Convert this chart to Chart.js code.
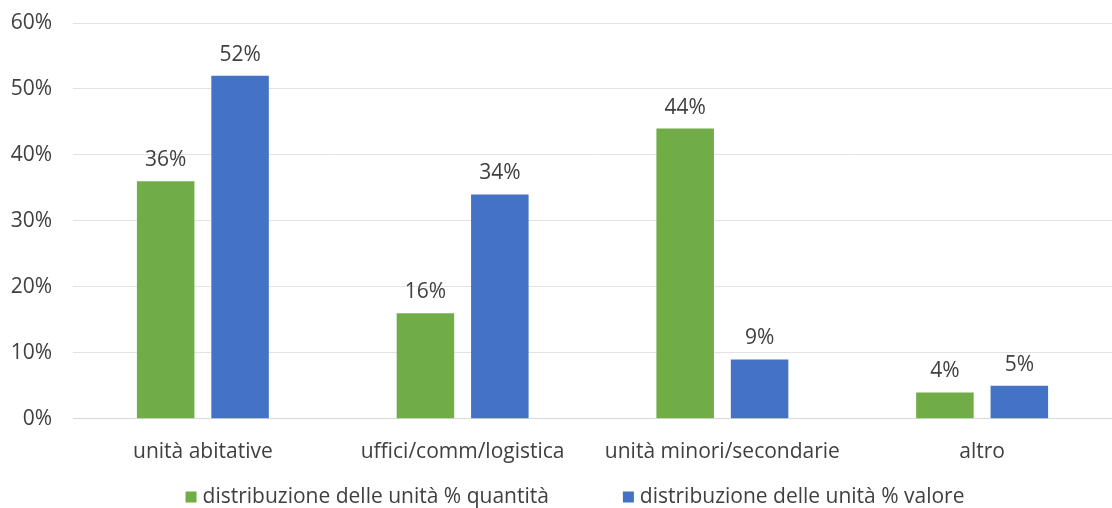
<!DOCTYPE html>
<html>
<head>
<meta charset="utf-8">
<script src="https://cdn.jsdelivr.net/npm/chart.js@4.4.1/dist/chart.umd.min.js"></script>
<style>
  html, body { margin: 0; padding: 0; background: #fff; }
  #wrap { width: 1112px; height: 508px; }
</style>
</head>
<body>
<div id="wrap"><canvas id="chart" width="1112" height="508"></canvas></div>
<script>
const categories = ['unità abitative', 'uffici/comm/logistica', 'unità minori/secondarie', 'altro'];
const quantita = [36, 16, 44, 4];
const valore = [52, 34, 9, 5];
const yTicks = [0, 10, 20, 30, 40, 50, 60];
const seriesNames = ['distribuzione delle unità % quantità', 'distribuzione delle unità % valore'];

const FONT = '"Open Sans", sans-serif';
const SIZE = 21;
const TEXT = '#404040';

// value labels over each bar
const barLabels = {
  id: 'barLabels',
  afterDatasetsDraw(chart) {
    const ctx = chart.ctx;
    ctx.save();
    ctx.font = SIZE + 'px ' + FONT;
    ctx.fillStyle = TEXT;
    ctx.textAlign = 'center';
    ctx.textBaseline = 'middle';
    chart.data.datasets.forEach((ds, i) => {
      chart.getDatasetMeta(i).data.forEach((bar, j) => {
        ctx.fillText(ds.data[j] + '%', bar.x, bar.y - 21);
      });
    });
    ctx.restore();
  }
};

// legend drawn by hand so the gap between the two items matches
const bottomLegend = {
  id: 'bottomLegend',
  afterDraw(chart) {
    const ctx = chart.ctx;
    ctx.save();
    ctx.font = SIZE + 'px ' + FONT;
    ctx.textBaseline = 'middle';
    const gap = 74, box = 11, y = 497;
    const items = chart.data.datasets.map(ds => ({ text: ds.label, color: ds.backgroundColor }));
    const widths = items.map(it => box + 6 + ctx.measureText(it.text).width);
    const total = widths.reduce((a, b) => a + b, 0) + gap * (items.length - 1);
    let x = 575 - total / 2;
    items.forEach((it, i) => {
      ctx.fillStyle = it.color;
      ctx.fillRect(x, y - box / 2, box, box);
      ctx.fillStyle = TEXT;
      ctx.fillText(it.text, x + box + 6, y);
      x += widths[i] + gap;
    });
    ctx.restore();
  }
};

new Chart(document.getElementById('chart'), {
  type: 'bar',
  data: {
    labels: categories,
    datasets: [
      { label: seriesNames[0], data: quantita, backgroundColor: '#70AD47' },
      { label: seriesNames[1], data: valore, backgroundColor: '#4472C4' }
    ]
  },
  options: {
    responsive: false,
    animation: false,
    layout: { padding: { top: 23, right: -8, bottom: 30, left: 0 } },
    datasets: {
      bar: { categoryPercentage: 0.573, barPercentage: 0.773 }
    },
    plugins: {
      legend: { display: false },
      tooltip: { enabled: false }
    },
    scales: {
      x: {
        grid: { display: false },
        border: { display: true, color: '#d9d9d9' },
        ticks: { color: TEXT, font: { family: FONT, size: SIZE }, padding: 13 }
      },
      y: {
        min: 0,
        max: 60,
        afterBuildTicks(scale) {
          scale.ticks = yTicks.map(v => ({ value: v }));
        },
        afterFit(scale) {
          scale.width = 73;
          scale.paddingTop = 0;
          scale.paddingBottom = 0;
        },
        grid: { color: '#e3e3e3', drawTicks: false },
        border: { display: false },
        ticks: {
          color: TEXT,
          font: { family: FONT, size: SIZE },
          padding: 21,
          callback: v => v + '%'
        }
      }
    }
  },
  plugins: [barLabels, bottomLegend]
});
</script>
</body>
</html>
